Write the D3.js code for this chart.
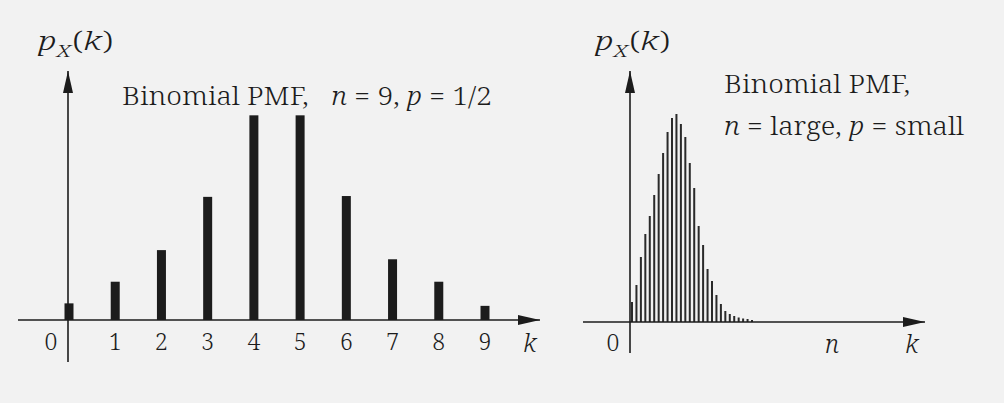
<!DOCTYPE html>
<html>
<head>
<meta charset="utf-8">
<script src="https://cdn.jsdelivr.net/npm/d3@7"></script>
<style>
  html, body { margin: 0; padding: 0; background: #f2f2f2; }
  svg { display: block; }
  text { font-family: "Noto Serif", "DejaVu Serif", serif; fill: #1c1c1c; font-weight: 300; }
</style>
</head>
<body>
<svg id="chart" width="1004" height="403"></svg>
<script>
// ---- data ----
const leftK = [0, 1, 2, 3, 4, 5, 6, 7, 8, 9];
const leftPMF = [0.020, 0.046, 0.084, 0.148, 0.246, 0.246, 0.149, 0.073, 0.046, 0.017];
const leftTickLabels = ["0", "1", "2", "3", "4", "5", "6", "7", "8", "9"];

const rightK = d3.range(28);
const rightPMF = [0.020, 0.037, 0.065, 0.088, 0.106, 0.127, 0.148, 0.169, 0.190, 0.204,
                  0.208, 0.198, 0.185, 0.159, 0.134, 0.096, 0.077, 0.053, 0.041, 0.027,
                  0.018, 0.011, 0.008, 0.006, 0.0045, 0.0035, 0.003, 0.002];
const rightTickValues = [0, 45];
const rightTickLabels = ["0", "n"];

const svg = d3.select("#chart");
const ink = "#1c1c1c";

svg.append("rect").attr("width", 1004).attr("height", 403).attr("fill", "#f2f2f2");

const defs = svg.append("defs");
defs.append("marker")
  .attr("id", "arrow")
  .attr("viewBox", "0 0 22 10")
  .attr("refX", 22).attr("refY", 5)
  .attr("markerWidth", 22).attr("markerHeight", 10)
  .attr("markerUnits", "userSpaceOnUse")
  .attr("orient", "auto")
  .append("path").attr("d", "M0,0 L22,5 L0,10 Z").attr("fill", ink);

// ---------- LEFT PANEL ----------
const xL = d3.scaleLinear().domain([0, 9]).range([69, 485]);
const yL = d3.scaleLinear().domain([0, 0.25]).range([320, 112]);

const gL = svg.append("g");
gL.selectAll("rect.bar").data(leftK).join("rect")
  .attr("class", "bar")
  .attr("x", d => xL(d) - 4.5)
  .attr("width", 9)
  .attr("y", (d, i) => yL(leftPMF[i]))
  .attr("height", (d, i) => yL(0) - yL(leftPMF[i]))
  .attr("fill", ink);

gL.append("line").attr("x1", 18).attr("x2", 540).attr("y1", yL(0)).attr("y2", yL(0))
  .attr("stroke", ink).attr("stroke-width", 1.6).attr("marker-end", "url(#arrow)");
gL.append("line").attr("x1", 68).attr("x2", 68).attr("y1", 362).attr("y2", 71)
  .attr("stroke", ink).attr("stroke-width", 1.6).attr("marker-end", "url(#arrow)");

gL.selectAll("text.tick").data(leftK).join("text")
  .attr("class", "tick")
  .attr("x", d => d === 0 ? xL(d) - 18 : xL(d))
  .attr("y", 350)
  .attr("text-anchor", "middle")
  .attr("font-size", 23)
  .text((d, i) => leftTickLabels[i]);

gL.append("text").attr("x", 530).attr("y", 352).attr("text-anchor", "middle")
  .attr("font-size", 25).attr("font-style", "italic").text("k");

function pxk(g, x, y) {
  const t = g.append("text").attr("x", x).attr("y", y).attr("font-size", 25)
    .attr("textLength", 75).attr("lengthAdjust", "spacingAndGlyphs");
  t.append("tspan").attr("font-style", "italic").text("p");
  t.append("tspan").attr("font-style", "italic").attr("font-size", 17).attr("dy", 7).text("X");
  t.append("tspan").attr("dy", -7).attr("dx", 1).text("(");
  t.append("tspan").attr("font-style", "italic").text("k");
  t.append("tspan").text(")");
  return t;
}
pxk(gL, 38, 50);

const tL = gL.append("text").attr("x", 122).attr("y", 105).attr("font-size", 25)
  .attr("textLength", 370).attr("lengthAdjust", "spacingAndGlyphs");
tL.append("tspan").text("Binomial PMF,");
tL.append("tspan").attr("dx", 20).attr("font-style", "italic").text("n");
tL.append("tspan").text(" = 9, ");
tL.append("tspan").attr("font-style", "italic").text("p");
tL.append("tspan").text(" = 1/2");

// ---------- RIGHT PANEL ----------
const xR = d3.scaleLinear().domain([0, 27]).range([632, 752]);
const yR = d3.scaleLinear().domain([0, 0.21]).range([322, 112]);

const gR = svg.append("g");
gR.selectAll("rect.bar").data(rightK).join("rect")
  .attr("class", "bar")
  .attr("x", d => xR(d) - 1)
  .attr("width", 2)
  .attr("y", (d, i) => yR(rightPMF[i]))
  .attr("height", (d, i) => yR(0) - yR(rightPMF[i]))
  .attr("fill", "#2a2a2a");

gR.append("line").attr("x1", 583).attr("x2", 925).attr("y1", yR(0)).attr("y2", yR(0))
  .attr("stroke", ink).attr("stroke-width", 1.6).attr("marker-end", "url(#arrow)");
gR.append("line").attr("x1", 630).attr("x2", 630).attr("y1", 353).attr("y2", 71)
  .attr("stroke", ink).attr("stroke-width", 1.6).attr("marker-end", "url(#arrow)");

gR.selectAll("text.tick").data(rightTickValues).join("text")
  .attr("class", "tick")
  .attr("x", d => d === 0 ? xR(d) - 19 : xR(d))
  .attr("y", (d, i) => i === 0 ? 351 : 353)
  .attr("text-anchor", "middle")
  .attr("font-size", (d, i) => i === 0 ? 23 : 25)
  .attr("font-style", (d, i) => i === 0 ? "normal" : "italic")
  .text((d, i) => rightTickLabels[i]);

gR.append("text").attr("x", 912).attr("y", 353).attr("text-anchor", "middle")
  .attr("font-size", 25).attr("font-style", "italic").text("k");

pxk(gR, 595, 50);

gR.append("text").attr("x", 724).attr("y", 93).attr("font-size", 25)
  .attr("textLength", 186).attr("lengthAdjust", "spacingAndGlyphs")
  .text("Binomial PMF,");
const tR2 = gR.append("text").attr("x", 724).attr("y", 135).attr("font-size", 25)
  .attr("textLength", 240).attr("lengthAdjust", "spacingAndGlyphs");
tR2.append("tspan").attr("font-style", "italic").text("n");
tR2.append("tspan").text(" = large, ");
tR2.append("tspan").attr("font-style", "italic").text("p");
tR2.append("tspan").text(" = small");
</script>
</body>
</html>
